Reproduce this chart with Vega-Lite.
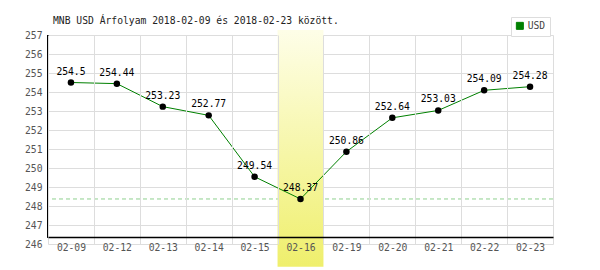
{
  "$schema": "https://vega.github.io/schema/vega-lite/v6.json",
  "autosize": {"type": "none"},
  "width": 505,
  "height": 209,
  "padding": {"left": 48, "top": 35, "right": 47, "bottom": 26},
  "background": "white",
  "title": {"text": "MNB USD Árfolyam 2018-02-09 és 2018-02-23 között.", "anchor": "start", "frame": "group", "dx": 5, "offset": -9, "font": "DejaVu Sans Mono", "fontSize": 9.7, "fontWeight": "normal", "color": "#222"},
  "config": {
    "view": {"stroke": null},
    "text": {"font": "DejaVu Sans Mono"},
    "axisY": {"title": null, "tickCount": 12, "labelOverlap": false, "ticks": false, "domain": false, "gridColor": "#ddd", "labelFont": "DejaVu Sans Mono", "labelFontSize": 9.7, "labelColor": "#555", "labelPadding": 6}
  },
  "data": {"values": [
    {"date": "02-09", "rate": 254.5},
    {"date": "02-12", "rate": 254.44},
    {"date": "02-13", "rate": 253.23},
    {"date": "02-14", "rate": 252.77},
    {"date": "02-15", "rate": 249.54},
    {"date": "02-16", "rate": 248.37},
    {"date": "02-19", "rate": 250.86},
    {"date": "02-20", "rate": 252.64},
    {"date": "02-21", "rate": 253.03},
    {"date": "02-22", "rate": 254.09},
    {"date": "02-23", "rate": 254.28}
  ]},
  "encoding": {
    "x": {"field": "date", "type": "ordinal",
      "scale": {"domain": ["02-09", "02-12", "02-13", "02-14", "02-15", "02-16", "02-19", "02-20", "02-21", "02-22", "02-23"], "paddingInner": 0, "paddingOuter": 0},
      "axis": {"title": null, "labelAngle": 0, "grid": true, "tickBand": "extent", "ticks": false, "offset": -7, "domainColor": "#000", "domainWidth": 1.5, "gridColor": "#ddd", "labelFont": "DejaVu Sans Mono", "labelFontSize": 9.7, "labelColor": "#555", "labelPadding": 5, "zindex": 1}},
    "y": {"field": "rate", "type": "quantitative",
      "scale": {"domain": [246, 257], "zero": false, "nice": false},
      "axis": {"values": [246, 247, 248, 249, 250, 251, 252, 253, 254, 255, 256, 257]}}
  },
  "layer": [
    {
      "mark": {"type": "rule", "stroke": "#8fd08f", "strokeDash": [4, 3], "strokeWidth": 1},
      "encoding": {
        "x": null,
        "y": {"aggregate": "min", "field": "rate", "type": "quantitative",
          "axis": {"values": [246, 247, 248, 249, 250, 251, 252, 253, 254, 255, 256, 257]}}
      }
    },
    {
      "transform": [
        {"joinaggregate": [{"op": "min", "field": "rate", "as": "minRate"}]},
        {"filter": "datum.rate == datum.minRate"}
      ],
      "mark": {"type": "rect", "clip": false, "fill": {"gradient": "linear", "x1": 0, "y1": 0, "x2": 0, "y2": 1, "stops": [{"offset": 0, "color": "#fefee8"}, {"offset": 1, "color": "#efef6c"}]}},
      "encoding": {
        "y": {"datum": 257.26, "type": "quantitative", "axis": {"values": [246, 247, 248, 249, 250, 251, 252, 253, 254, 255, 256, 257]}},
        "y2": {"datum": 244.8}
      }
    },
    {
      "mark": {"type": "rule", "stroke": "#000", "strokeWidth": 1.5},
      "encoding": {
        "x": {"datum": "02-09", "type": "ordinal", "bandPosition": 0},
        "y": {"datum": 257, "type": "quantitative", "axis": {"values": [246, 247, 248, 249, 250, 251, 252, 253, 254, 255, 256, 257]}},
        "y2": {"datum": 246.35}
      }
    },
    {
      "mark": {"type": "line", "strokeWidth": 1},
      "encoding": {
        "color": {"datum": "USD", "type": "nominal", "scale": {"range": ["#008000"]},
          "legend": {"title": null, "orient": "none", "legendX": 463, "legendY": -18, "padding": 4, "strokeColor": "#ddd", "fillColor": "white", "symbolType": "square", "symbolSize": 49, "labelFont": "DejaVu Sans Mono", "labelFontSize": 9.7, "labelColor": "#444", "labelOffset": 3,
            "encode": {"symbols": {"update": {"fill": {"value": "#008000"}, "stroke": {"value": "#555"}, "strokeWidth": {"value": 1}}}}}}
      }
    },
    {
      "mark": {"type": "circle", "size": 42, "color": "#000", "opacity": 1}
    },
    {
      "mark": {"type": "text", "dy": -11, "fontSize": 9.7, "color": "#000"},
      "encoding": {"text": {"field": "rate", "type": "quantitative"}}
    }
  ]
}
